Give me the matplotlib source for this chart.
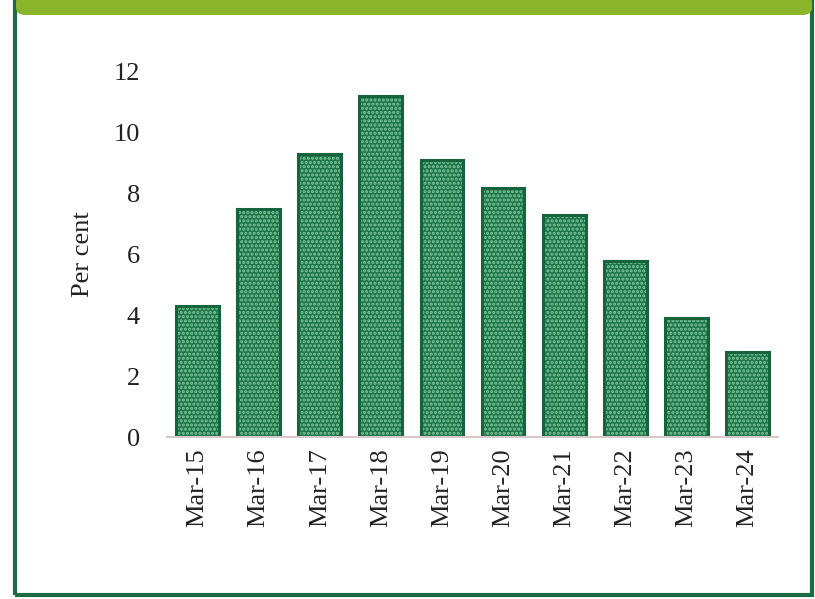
import matplotlib.pyplot as plt
from matplotlib.patches import FancyBboxPatch, Rectangle

months = ["Mar-15", "Mar-16", "Mar-17", "Mar-18", "Mar-19",
          "Mar-20", "Mar-21", "Mar-22", "Mar-23", "Mar-24"]
per_cent = [4.3, 7.5, 9.3, 11.2, 9.1, 8.2, 7.3, 5.8, 3.9, 2.8]
yticks = [0, 2, 4, 6, 8, 10, 12]

plt.rcParams['font.family'] = ['Liberation Serif', 'DejaVu Serif']
plt.rcParams['hatch.linewidth'] = 1.5

fig = plt.figure(figsize=(8.15, 5.99), dpi=100)

# outer frame and green header band
fig.patches.append(Rectangle((15 / 815, 4 / 599), 797 / 815, 600 / 599,
                             transform=fig.transFigure, fill=False,
                             edgecolor="#1d6b45", linewidth=3, clip_on=False))
fig.patches.append(FancyBboxPatch((16 / 815, 1 - 15 / 599), 796 / 815, 20 / 599,
                                  boxstyle="round,pad=0,rounding_size=0.012",
                                  transform=fig.transFigure, facecolor="#8ab52a",
                                  edgecolor="none", clip_on=False))

ax = fig.add_axes([167 / 815, 1 - 437 / 599, 611 / 815, 365 / 599])
x = range(len(months))
ax.bar(x, per_cent, width=0.7, color="#20754a", edgecolor="#7cc79a",
       hatch="....", linewidth=0)
ax.bar(x, per_cent, width=0.7, fill=False, edgecolor="#17633c", linewidth=2.2)

ax.set_xlim(-0.5, 9.5)
ax.set_ylim(0, 12)
ax.set_yticks(yticks)
ax.set_xticks(list(x))
ax.set_xticklabels(months, rotation=90)
ax.tick_params(length=0, labelsize=19, colors="#222222")
ax.tick_params(axis="y", pad=19.5)
ax.tick_params(axis="x", pad=8)
for s in ["top", "right", "left"]:
    ax.spines[s].set_visible(False)
ax.spines["bottom"].set_color("#d8c8c8")
ax.spines["bottom"].set_linewidth(1.5)
ax.set_ylabel("Per cent", fontsize=19, color="#222222", labelpad=14)

fig.savefig("out.png", dpi=100)
